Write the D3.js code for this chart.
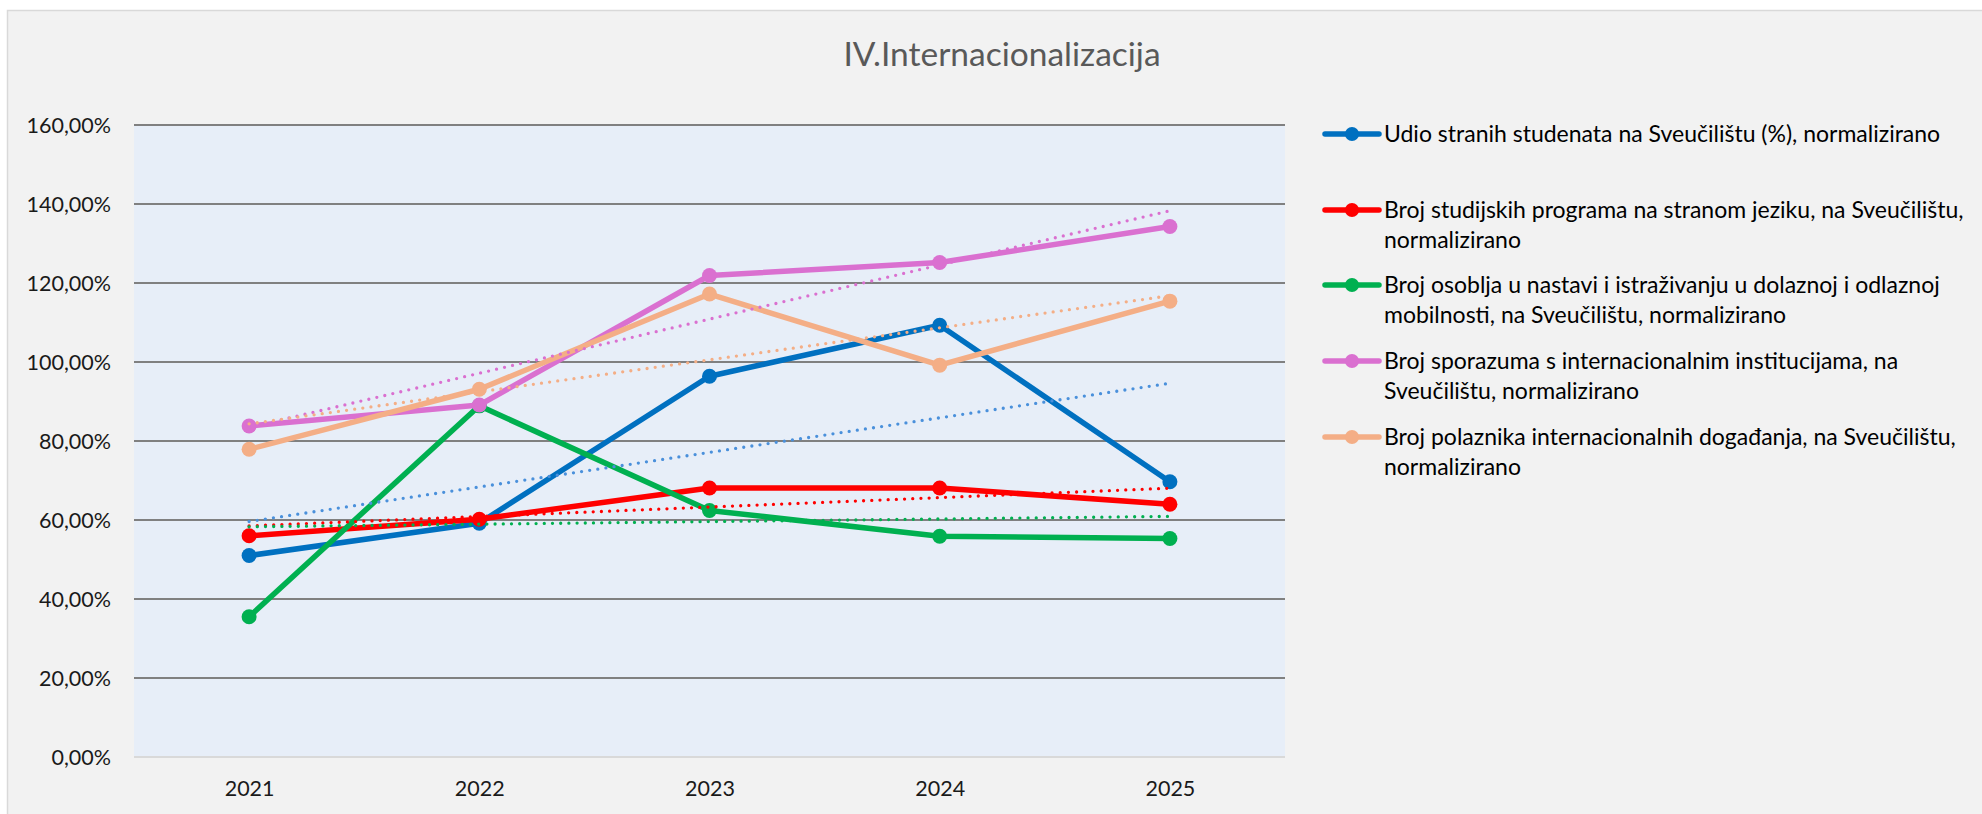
<!DOCTYPE html>
<html>
<head>
<meta charset="utf-8">
<script src="https://cdn.jsdelivr.net/npm/d3@7"></script>
<style>
    body { margin: 0; background: #ffffff; }
    svg { display: block; }
    text { font-family: Lato, "Noto Sans", sans-serif; }
</style>
</head>
<body>
<svg id="chart" width="1982" height="814"></svg>
<script>

//  categories and values (percent)
const years = ["2021", "2022", "2023", "2024", "2025"];

const udioStranih = [51.0, 59.2, 96.4, 109.3, 69.7];
const brojProgrami = [56.0, 60.2, 68.1, 68.1, 64.0];
const brojOsoblja = [35.5, 88.9, 62.4, 55.9, 55.3];
const brojSporazuma = [83.8, 89.1, 121.9, 125.2, 134.3];
const brojPolaznika = [77.9, 93.1, 117.2, 99.2, 115.4];

const seriesNames = [
    ["Udio stranih studenata na Sveučilištu (%), normalizirano"],
    ["Broj studijskih programa na stranom jeziku, na Sveučilištu,", "normalizirano"],
    ["Broj osoblja u nastavi i istraživanju u dolaznoj i odlaznoj", "mobilnosti, na Sveučilištu, normalizirano"],
    ["Broj sporazuma s internacionalnim institucijama, na", "Sveučilištu, normalizirano"],
    ["Broj polaznika internacionalnih događanja, na Sveučilištu,", "normalizirano"]
];
const seriesValues = [udioStranih, brojProgrami, brojOsoblja, brojSporazuma, brojPolaznika];
const seriesColors = ["#0070C0", "#FF0000", "#00B050", "#DA70D0", "#F4AE86"];
const trendColors = ["#4A90DB", "#FF0000", "#00B050", "#DA70D0", "#F4AE86"];

const yTicks = [0, 20, 40, 60, 80, 100, 120, 140, 160];
const chartTitle = "IV.Internacionalizacija";

const svg = d3.select("#chart");

//  chart area background and border
svg.append("rect")
    .attr("x", 7.5).attr("y", 10.5)
    .attr("width", 2000).attr("height", 900)
    .attr("fill", "#F2F2F2")
    .attr("stroke", "#D9D9D9")
    .attr("stroke-width", 1.5);

const plot = {left: 134, right: 1285, top: 125, bottom: 757};

const x = d3.scalePoint()
    .domain(years)
    .range([plot.left, plot.right])
    .padding(0.5);

const y = d3.scaleLinear()
    .domain([0, 160])
    .range([plot.bottom, plot.top]);

svg.append("rect")
    .attr("x", plot.left).attr("y", plot.top)
    .attr("width", plot.right - plot.left)
    .attr("height", plot.bottom - plot.top)
    .attr("fill", "#E7EEF8");

//  gridlines
svg.append("g")
    .selectAll("line")
    .data(yTicks.filter(d => d > 0))
    .join("line")
    .attr("x1", plot.left).attr("x2", plot.right)
    .attr("y1", d => y(d)).attr("y2", d => y(d))
    .attr("stroke", "#808080")
    .attr("stroke-width", 2.2);

//  x axis baseline
svg.append("line")
    .attr("x1", plot.left).attr("x2", plot.right)
    .attr("y1", y(0)).attr("y2", y(0))
    .attr("stroke", "#D9D9D9")
    .attr("stroke-width", 2);

//  y axis
const yAxis = d3.axisLeft(y)
    .tickValues(yTicks)
    .tickSize(0)
    .tickPadding(0)
    .tickFormat(d => d3.format(".2f")(d).replace(".", ",") + "%");

svg.append("g")
    .attr("transform", `translate(${plot.left - 23},0)`)
    .call(yAxis)
    .call(g => g.select(".domain").remove())
    .selectAll("text")
    .attr("font-size", 21.5)
    .attr("fill", "#1A1A1A")
    .attr("dy", "0.36em");

//  x axis
const xAxis = d3.axisBottom(x).tickSize(0).tickPadding(0);

svg.append("g")
    .attr("transform", `translate(0,${plot.bottom + 24})`)
    .call(xAxis)
    .call(g => g.select(".domain").remove())
    .selectAll("text")
    .attr("font-size", 21.5)
    .attr("fill", "#1A1A1A")
    .attr("dy", "0.71em");

//  linear trend (least squares over category index)
function trendEnds(vals) {
    const n = vals.length;
    const xs = d3.range(n);
    const mx = d3.mean(xs), my = d3.mean(vals);
    const slope = d3.sum(xs, (xi, i) => (xi - mx) * (vals[i] - my)) / d3.sum(xs, xi => (xi - mx) ** 2);
    const b = my - slope * mx;
    return [[0, b], [n - 1, b + slope * (n - 1)]];
}

const line = d3.line()
    .x((d, i) => x(years[i]))
    .y(d => y(d));

const trendLine = d3.line()
    .x(d => x(years[d[0]]))
    .y(d => y(d[1]));

const series = svg.append("g")
    .selectAll("g")
    .data(seriesValues)
    .join("g");

series.append("path")
    .attr("d", d => line(d))
    .attr("fill", "none")
    .attr("stroke", (d, i) => seriesColors[i])
    .attr("stroke-width", 5.5)
    .attr("stroke-linejoin", "round");

series.selectAll("circle")
    .data((d, i) => d.map(v => ({v: v, c: seriesColors[i]})))
    .join("circle")
    .attr("cx", (d, i) => x(years[i]))
    .attr("cy", d => y(d.v))
    .attr("r", 7.5)
    .attr("fill", d => d.c);

svg.append("g")
    .selectAll("path")
    .data(seriesValues)
    .join("path")
    .attr("d", d => trendLine(trendEnds(d)))
    .attr("fill", "none")
    .attr("stroke", (d, i) => trendColors[i])
    .attr("stroke-width", 3.3)
    .attr("stroke-linecap", "round")
    .attr("stroke-dasharray", "0 8.2");

//  title
svg.append("text")
    .attr("x", 1002).attr("y", 66)
    .attr("text-anchor", "middle")
    .attr("font-size", 33.5)
    .attr("fill", "#595959")
    .text(chartTitle);

//  legend
const legendTops = [142, 218, 293, 369, 445];

const legend = svg.append("g")
    .selectAll("g")
    .data(seriesNames)
    .join("g")
    .attr("transform", (d, i) => `translate(1325,${legendTops[i]})`);

legend.append("line")
    .attr("x1", 0).attr("x2", 54)
    .attr("y1", -8).attr("y2", -8)
    .attr("stroke", (d, i) => seriesColors[i])
    .attr("stroke-width", 5.5)
    .attr("stroke-linecap", "round");

legend.append("circle")
    .attr("cx", 27).attr("cy", -8)
    .attr("r", 7)
    .attr("fill", (d, i) => seriesColors[i]);

legend.selectAll("text")
    .data(d => d)
    .join("text")
    .attr("x", 59)
    .attr("y", (d, i) => i * 30)
    .attr("font-size", 23)
    .attr("fill", "#000000")
    .text(d => d);

</script>
</body>
</html>
